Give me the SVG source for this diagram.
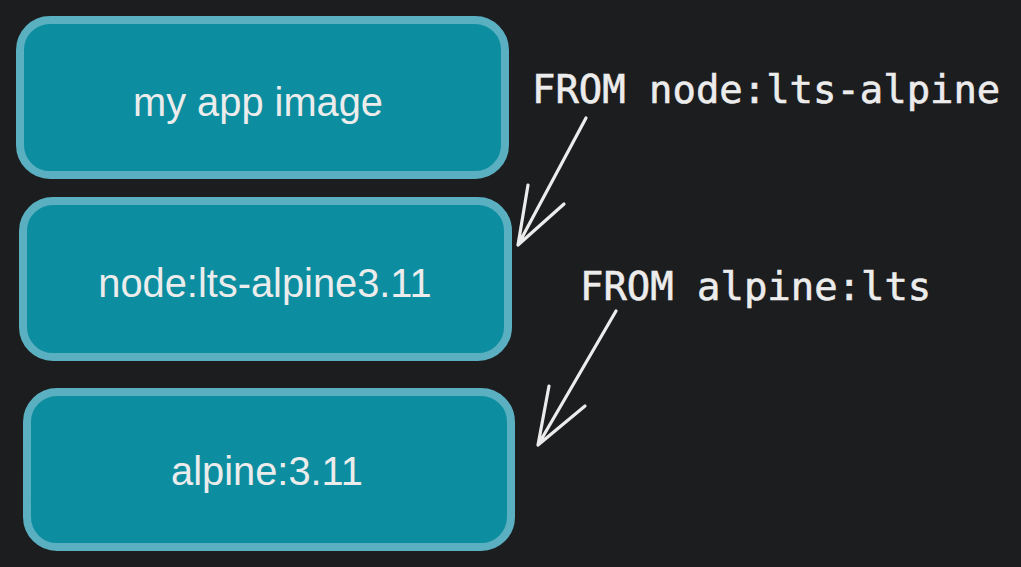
<svg xmlns="http://www.w3.org/2000/svg" width="1021" height="567" viewBox="0 0 1021 567">
<style>
.box{fill:#0d8ea0;stroke:#5aafc0;stroke-width:8}
.lbl{font-family:"Liberation Sans",Arial,sans-serif;font-size:39.8px;fill:#ececec;text-anchor:middle}
.code{font-family:"DejaVu Sans Mono","Liberation Mono",monospace;font-size:38.9px;fill:#ececec;stroke:#ececec;stroke-width:0.6}
.arr{fill:none;stroke:#ececec;stroke-width:3.2;stroke-linecap:round;stroke-linejoin:round}
</style>
<rect width="1021" height="567" fill="#1c1d1f"/>
<g id="node-app">
<rect class="box" x="20" y="20" width="485" height="155" rx="30"/>
<text class="lbl" x="258" y="116">my app image</text>
</g>
<g id="node-node">
<rect class="box" x="23" y="201" width="485" height="156" rx="30"/>
<text class="lbl" x="265" y="297">node:lts-alpine3.11</text>
</g>
<g id="node-alpine">
<rect class="box" x="27" y="392" width="484" height="155" rx="30"/>
<text class="lbl" x="267" y="485">alpine:3.11</text>
</g>
<g id="connectors">
<path class="arr" d="M586 118 L518 245 M528 185 L518 245 L564 204"/>
<path class="arr" d="M616 311 L538 445 M549 386 L538 445 L585 406"/>
</g>
<g id="labels">
<text class="code" x="532" y="103">FROM node:lts-alpine</text>
<text class="code" x="580" y="300">FROM alpine:lts</text>
</g>
</svg>
